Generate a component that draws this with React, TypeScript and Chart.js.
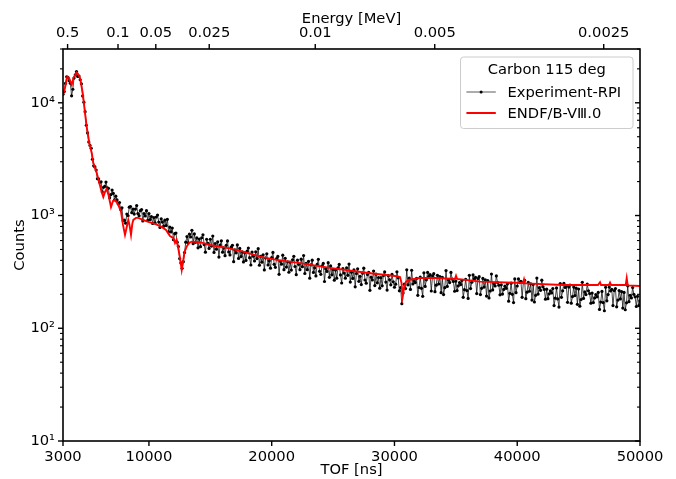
import React, { useEffect, useRef } from 'react';
import { Chart, registerables } from 'chart.js';

Chart.register(...registerables);

// ---------------- data ----------------
const X_TICKS = [3000, 10000, 20000, 30000, 40000, 50000];
const ENERGY_TICKS_MEV = [0.5, 0.1, 0.05, 0.025, 0.01, 0.005, 0.0025];
const ENERGY_TICK_LABELS = ['0.5', '0.1', '0.05', '0.025', '0.01', '0.005', '0.0025'];
const Y_DECADES = [10, 100, 1000, 10000];
const Y_DECADE_LABELS = ['10¹', '10²', '10³', '10⁴'];
const FLIGHT_PATH_M = 32.5;
const TOF_OFFSET_NS = 50;

// Experiment-RPI: counts in 100 ns TOF bins starting at 3000 ns
const EXP_TOF_START = 3000;
const EXP_TOF_STEP = 100;
const EXP_COUNTS = [
  11900, 12570, 14850, 16980, 16800, 15660, 14890, 11530, 13180, 16580,
  17690, 18900, 17110, 17260, 16010, 14730, 11500, 10120, 8340, 6320,
  5400, 4500, 4190, 3950, 3150, 2760, 2700, 2530, 2120, 2110,
  1970, 1990, 1620, 1780, 1815, 1980, 1760, 1745, 1435, 1530,
  1685, 1570, 1375, 1485, 1375, 1265, 1305, 1130, 1170, 900,
  910, 855, 1030, 995, 1185, 1200, 1060, 1140, 1030, 1140,
  1225, 1040, 995, 1105, 1130, 895, 1040, 990, 1105, 905,
  1040, 920, 980, 850, 960, 860, 970, 1010, 875, 785,
  935, 875, 805, 910, 815, 925, 715, 790, 715, 775,
  610, 690, 700, 580, 530, 415, 380, 340, 390, 470,
  580, 650, 572, 683, 645, 740, 563, 687, 578, 633,
  517, 618, 529, 635, 675, 553, 473, 616, 566, 511,
  616, 536, 658, 471, 565, 503, 585, 428, 547, 596,
  473, 516, 440, 544, 595, 475, 447, 524, 545, 390,
  495, 467, 549, 416, 511, 432, 475, 388, 467, 400,
  483, 515, 423, 364, 474, 436, 395, 477, 415, 508,
  363, 435, 386, 449, 329, 420, 458, 364, 398, 341,
  424, 471, 369, 347, 415, 434, 301, 393, 370, 445,
  331, 418, 349, 389, 314, 386, 328, 405, 435, 353,
  299, 402, 369, 331, 410, 352, 442, 306, 376, 331,
  392, 278, 365, 402, 313, 345, 291, 368, 409, 320,
  301, 358, 376, 260, 338, 319, 382, 283, 357, 298,
  332, 267, 328, 278, 343, 368, 297, 252, 338, 309,
  278, 344, 295, 371, 257, 314, 277, 329, 233, 306,
  337, 261, 289, 244, 308, 341, 268, 251, 300, 314,
  217, 284, 268, 322, 239, 302, 253, 282, 227, 281,
  238, 294, 316, 257, 218, 293, 269, 243, 300, 258,
  231, 246, 317, 280, 215, 230, 165, 205, 246, 225,
  330, 243, 278, 221, 327,
  247, 264, 254, 277, 196, 230, 284, 226, 192, 310,
  235, 269, 313, 289, 299, 214, 292, 305, 211, 241,
  295, 247, 287, 207, 283, 199, 229, 325, 235, 268,
  254, 313, 273, 260, 213, 262, 216, 238, 254, 244,
  266, 188, 220, 272, 216, 184, 295, 225, 256, 297,
  274, 283, 203, 276, 287, 199, 226, 277, 232, 269,
  193, 265, 186, 214, 303, 219, 249, 237, 291, 254,
  241, 198, 243, 201, 221, 236, 226, 247, 174, 204,
  251, 200, 169, 274, 207, 237, 274, 254, 261, 188,
  254, 266, 183, 209, 255, 213, 248, 178, 244, 171,
  196, 279, 201, 229, 217, 267, 233, 221, 181, 222,
  183, 202, 215, 206, 225, 159, 185, 228, 182, 154,
  249, 188, 215, 250, 230, 238, 170, 232, 242, 167,
  191, 232, 195, 227, 163, 223, 157, 180, 256, 184,
  210, 199, 246, 215, 203, 167, 205, 169, 186, 199,
  190, 208, 147, 171, 212, 169, 143, 231, 175, 199,
  232, 214, 221, 159, 216, 225, 155, 178, 216, 182,
  211, 151, 208, 146, 168, 238, 172, 196, 186, 230,
  200, 190, 156, 192, 159, 175,
];

// ENDF/B-VIII.0 evaluation
const ENDF_TOF = [
  3000, 3160, 3350, 3490, 3710, 3855, 4116, 4222, 4385, 4605,
  4792, 4931, 5142, 5338, 5468, 5745, 5957, 6014, 6152, 6283,
  6421, 6560, 6706, 6910, 7073, 7236, 7505, 7725, 7888, 8050,
  8173, 8319, 8417, 8539, 8645, 8727, 8946, 9134, 9517, 9949,
  10495, 11040, 11390, 11716, 12000, 12123, 12245, 12368, 12531, 12669,
  12775, 12897, 13076, 13263, 13483, 14160, 14974, 16335, 17663, 19048,
  20408, 22037, 24750, 28008, 30044, 30452, 30574, 30672, 30778, 30941,
  31128, 32081, 33441, 34932, 35013, 35095, 36968, 40472, 40553, 40634,
  43730, 46580, 46743, 46825, 47476, 47558, 47640, 48837, 48918, 49000,
  50000,
];
const ENDF_COUNTS = [
  11750, 13550, 17000, 16640, 14420, 16640, 18540, 18060, 16640, 12250,
  8130, 6110, 4400, 3590, 2940, 2390, 1945, 1850, 1620, 1462,
  1620, 1722, 1524, 1191, 1349, 1377, 1245, 1082, 826, 673,
  776, 914, 826, 673, 843, 914, 953, 953, 914, 877,
  843, 793, 745, 659, 630, 571, 608, 526, 421, 329,
  387, 475, 530, 571, 587, 580, 548, 516, 478, 432,
  404, 382, 343, 308, 291, 285, 252, 191, 228, 258,
  268, 279, 279, 274, 292, 274, 259, 252, 272, 250,
  242, 242, 256, 242, 242, 254, 242, 242, 278, 240,
  237,
];

// ---------------- style constants ----------------
const FONT_SIZE = 14.7;
const FONT_FAMILY = "'DejaVu Sans', sans-serif";
const MAJOR_LEN = 5;
const MINOR_LEN = 3;

const tofFromEnergy = (eMeV: number) => (72.3 * FLIGHT_PATH_M) / Math.sqrt(eMeV) + TOF_OFFSET_NS;

const axesPlugin = {
  id: 'mplAxes',
  afterDraw(chart: any) {
    const { ctx, chartArea: ca, scales } = chart;
    ctx.save();
    ctx.strokeStyle = '#000';
    const seg = (x1: number, y1: number, x2: number, y2: number, w: number) => {
      ctx.lineWidth = w;
      ctx.beginPath();
      ctx.moveTo(x1, y1);
      ctx.lineTo(x2, y2);
      ctx.stroke();
    };
    const ys = scales.y;
    ys.ticks.forEach((t: any) => {
      const p = ys.getPixelForValue(t.value);
      const major = Y_DECADES.includes(t.value);
      const len = major ? MAJOR_LEN : MINOR_LEN;
      const w = major ? 1.4 : 1.1;
      seg(ca.left - len, p, ca.left, p, w);
      seg(ca.right, p, ca.right - len, p, w);
    });
    scales.x.ticks.forEach((t: any) => {
      const p = scales.x.getPixelForValue(t.value);
      seg(p, ca.bottom, p, ca.bottom + MAJOR_LEN, 1.4);
    });
    scales.x2.ticks.forEach((t: any) => {
      const p = scales.x2.getPixelForValue(t.value);
      seg(p, ca.top, p, ca.top - MAJOR_LEN, 1.4);
    });
    ctx.lineWidth = 1.6;
    ctx.strokeRect(ca.left, ca.top, ca.right - ca.left, ca.bottom - ca.top);
    ctx.restore();
  },
};

const legendPlugin = {
  id: 'mplLegend',
  afterDraw(chart: any) {
    const { ctx, chartArea: ca } = chart;
    const ds = chart.data.datasets;
    const exp = ds.find((d: any) => d.label === 'Experiment-RPI');
    const endf = ds.find((d: any) => d.label !== 'Experiment-RPI');
    const title = 'Carbon 115 deg';
    ctx.save();
    ctx.font = `${FONT_SIZE}px ${FONT_FAMILY}`;
    const pad = 0.4 * FONT_SIZE;
    const handle = 2.0 * FONT_SIZE;
    const htp = 0.8 * FONT_SIZE;
    const entryW = handle + htp + Math.max(ctx.measureText(exp.label).width, ctx.measureText(endf.label).width);
    const w = Math.max(entryW, ctx.measureText(title).width) + 2 * pad + 6;
    const h = 71.5;
    const right = ca.right - 7;
    const left = right - w;
    const top = ca.top + 8;
    ctx.beginPath();
    ctx.roundRect(left, top, w, h, 3);
    ctx.fillStyle = 'rgba(255,255,255,0.85)';
    ctx.fill();
    ctx.strokeStyle = '#cccccc';
    ctx.lineWidth = 1;
    ctx.stroke();

    ctx.fillStyle = '#000';
    ctx.textBaseline = 'middle';
    ctx.textAlign = 'center';
    ctx.fillText(title, left + w / 2, top + 13.5);
    ctx.textAlign = 'left';
    const hx = left + pad;
    const rows = [
      { d: exp, y: top + 35 },
      { d: endf, y: top + 56 },
    ];
    rows.forEach(({ d, y }) => {
      ctx.strokeStyle = d === exp ? 'rgba(90,90,90,1)' : d.borderColor;
      ctx.lineWidth = d === exp ? 1 : 2;
      ctx.beginPath();
      ctx.moveTo(hx, y);
      ctx.lineTo(hx + handle, y);
      ctx.stroke();
      if (d === exp) {
        ctx.fillStyle = '#000';
        ctx.beginPath();
        ctx.arc(hx + handle / 2, y, 1.5, 0, Math.PI * 2);
        ctx.fill();
      }
      ctx.fillStyle = '#000';
      ctx.fillText(d.label, hx + handle + htp, y + 1);
    });
    ctx.restore();
  },
};

export default function App() {
  const ref = useRef<HTMLCanvasElement>(null);
  useEffect(() => {
    if (!ref.current) return;
    Chart.defaults.font.family = FONT_FAMILY;
    Chart.defaults.font.size = FONT_SIZE;
    Chart.defaults.color = '#000';

    const expData = EXP_COUNTS.map((c, i) => ({ x: EXP_TOF_START + i * EXP_TOF_STEP, y: c }));
    const endfData = ENDF_TOF.map((t, i) => ({ x: t, y: ENDF_COUNTS[i] }));

    const chart = new Chart(ref.current, {
      type: 'line',
      data: {
        datasets: [
          {
            label: 'ENDF/B-VⅢ.0',
            data: endfData,
            borderColor: '#ff0000',
            borderWidth: 1.9,
            pointRadius: 0,
            tension: 0,
            order: 0,
            xAxisID: 'x',
            yAxisID: 'y',
          },
          {
            label: 'Experiment-RPI',
            data: expData,
            borderColor: 'rgba(0,0,0,0.9)',
            borderWidth: 0.8,
            pointRadius: 1.6,
            pointBorderWidth: 0,
            pointBackgroundColor: '#000',
            tension: 0,
            order: 1,
            xAxisID: 'x',
            yAxisID: 'y',
          },
        ],
      },
      options: {
        animation: false,
        responsive: false,
        devicePixelRatio: 1,
        events: [],
        layout: { padding: { left: 0, right: 36, top: 0, bottom: 0 } },
        plugins: { legend: { display: false }, tooltip: { enabled: false } },
        scales: {
          x: {
            type: 'linear',
            position: 'bottom',
            min: 3000,
            max: 50000,
            grid: { display: false, drawTicks: false },
            border: { display: false },
            afterBuildTicks: (s: any) => {
              s.ticks = X_TICKS.map((v) => ({ value: v }));
            },
            afterFit: (s: any) => {
              s.height = 38;
            },
            ticks: {
              autoSkip: false,
              maxRotation: 0,
              padding: 7,
              color: '#000',
              callback: (v: any) => String(v),
            },
            title: { display: true, text: 'TOF [ns]', color: '#000', padding: { top: 0, bottom: 0 } },
          },
          x2: {
            type: 'linear',
            axis: 'x',
            position: 'top',
            min: 3000,
            max: 50000,
            grid: { display: false, drawTicks: false },
            border: { display: false },
            afterBuildTicks: (s: any) => {
              s.ticks = ENERGY_TICKS_MEV.map((e) => ({ value: tofFromEnergy(e) }));
            },
            afterFit: (s: any) => {
              s.height = 49;
            },
            ticks: {
              autoSkip: false,
              maxRotation: 0,
              padding: 7,
              color: '#000',
              callback: (_v: any, i: number) => ENERGY_TICK_LABELS[i],
            },
            title: { display: true, text: 'Energy [MeV]', color: '#000', padding: { top: 10, bottom: 0 } },
          },
          y: {
            type: 'logarithmic',
            position: 'left',
            min: 10,
            max: 30000,
            grid: { display: false, drawTicks: false },
            border: { display: false },
            afterBuildTicks: (s: any) => {
              const ticks: any[] = [];
              Y_DECADES.forEach((d) => {
                for (let m = 1; m <= 9; m++) {
                  const v = m * d;
                  if (v <= 30000) ticks.push({ value: v });
                }
              });
              s.ticks = ticks;
            },
            afterFit: (s: any) => {
              s.width = 63;
            },
            ticks: {
              autoSkip: false,
              padding: 8,
              color: '#000',
              callback: (v: any) => {
                const idx = Y_DECADES.indexOf(Number(v));
                return idx >= 0 ? Y_DECADE_LABELS[idx] : '';
              },
            },
            title: { display: true, text: 'Counts', color: '#000', padding: { top: 11, bottom: 0 } },
          },
        },
      },
      plugins: [axesPlugin, legendPlugin],
    } as any);
    return () => chart.destroy();
  }, []);

  return (
    <div style={{ position: 'fixed', left: 0, top: 0, width: 676, height: 479, background: '#fff' }}>
      <canvas ref={ref} width={676} height={479} style={{ width: 676, height: 479, display: 'block' }} />
    </div>
  );
}
